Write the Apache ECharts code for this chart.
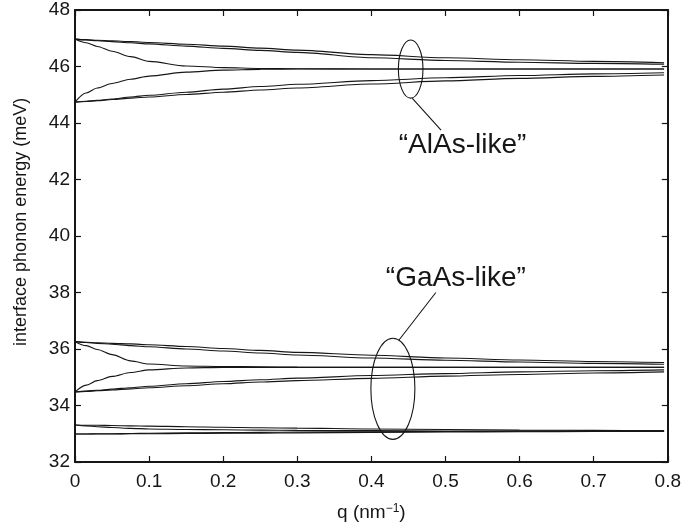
<!DOCTYPE html>
<html><head><meta charset="utf-8">
<script src="https://cdn.jsdelivr.net/npm/echarts@6/dist/echarts.min.js"></script>
<style>html,body{margin:0;padding:0;background:#fff}#c{width:684px;height:529px}</style>
</head><body><div id="c"></div>
<script>
// wave vector q (nm^-1)
const q = [0, 0.015, 0.03, 0.05, 0.075, 0.1, 0.15, 0.2, 0.25, 0.3, 0.4, 0.5, 0.6, 0.7, 0.795];
// "AlAs-like" interface phonon branches (meV)
const alas1 = [46.97, 46.95, 46.93, 46.91, 46.88, 46.85, 46.79, 46.72, 46.65, 46.58, 46.42, 46.31, 46.24, 46.18, 46.13];
const alas2 = [46.97, 46.94, 46.91, 46.88, 46.84, 46.80, 46.72, 46.64, 46.57, 46.50, 46.31, 46.21, 46.15, 46.11, 46.08];
const alas3 = [46.97, 46.84, 46.71, 46.54, 46.35, 46.18, 46.02, 45.96, 45.93, 45.92, 45.91, 45.91, 45.91, 45.91, 45.91];
const alas4 = [44.74, 45.06, 45.24, 45.40, 45.55, 45.66, 45.80, 45.87, 45.90, 45.91, 45.91, 45.91, 45.91, 45.91, 45.91];
const alas5 = [44.74, 44.77, 44.80, 44.85, 44.92, 44.98, 45.09, 45.20, 45.29, 45.37, 45.50, 45.60, 45.68, 45.74, 45.78];
const alas6 = [44.74, 44.76, 44.79, 44.83, 44.88, 44.92, 45.01, 45.09, 45.17, 45.24, 45.38, 45.49, 45.58, 45.65, 45.70];
// "GaAs-like" interface phonon branches (meV)
const gaas1 = [36.26, 36.24, 36.22, 36.20, 36.18, 36.15, 36.09, 36.02, 35.95, 35.88, 35.78, 35.68, 35.61, 35.56, 35.52];
const gaas2 = [36.26, 36.23, 36.20, 36.17, 36.12, 36.08, 36.00, 35.93, 35.86, 35.79, 35.68, 35.60, 35.54, 35.49, 35.46];
const gaas3 = [36.26, 36.12, 35.98, 35.80, 35.58, 35.47, 35.40, 35.38, 35.37, 35.36, 35.35, 35.35, 35.35, 35.35, 35.35];
const gaas4 = [34.48, 34.72, 34.88, 35.03, 35.17, 35.26, 35.33, 35.35, 35.35, 35.35, 35.35, 35.35, 35.35, 35.35, 35.35];
const gaas5 = [34.48, 34.51, 34.54, 34.58, 34.63, 34.68, 34.77, 34.85, 34.91, 34.97, 35.06, 35.13, 35.19, 35.23, 35.26];
const gaas6 = [34.48, 34.50, 34.52, 34.55, 34.59, 34.63, 34.70, 34.77, 34.83, 34.88, 34.96, 35.04, 35.10, 35.15, 35.19];
const low1 = [33.31, 33.30, 33.30, 33.29, 33.28, 33.27, 33.25, 33.23, 33.21, 33.20, 33.17, 33.15, 33.13, 33.12, 33.11];
const low2 = [33.31, 33.28, 33.25, 33.22, 33.19, 33.17, 33.15, 33.14, 33.13, 33.12, 33.11, 33.10, 33.10, 33.10, 33.10];
const low3 = [32.99, 32.99, 33.00, 33.00, 33.01, 33.02, 33.03, 33.04, 33.05, 33.06, 33.07, 33.08, 33.09, 33.09, 33.10];
const low4 = [32.99, 32.99, 32.99, 32.99, 33.00, 33.00, 33.01, 33.02, 33.02, 33.03, 33.05, 33.06, 33.07, 33.08, 33.08];
const curves = [alas1, alas2, alas3, alas4, alas5, alas6, gaas1, gaas2, gaas3, gaas4, gaas5, gaas6, low1, low2, low3, low4];
// tick labels
const xTicks = ['0', '0.1', '0.2', '0.3', '0.4', '0.5', '0.6', '0.7', '0.8'];
const yTicks = ['32', '34', '36', '38', '40', '42', '44', '46', '48'];
// annotations (data coordinates)
const alasNote = {label: '\u201cAlAs-like\u201d', center: [0.453, 45.91], rq: 0.0166, rv: 1.03, from: [0.455, 44.88], to: [0.494, 43.75], text: [0.523, 43.22]};
const gaasNote = {label: '\u201cGaAs-like\u201d', center: [0.429, 34.59], rq: 0.0297, rv: 1.79, from: [0.437, 36.31], to: [0.487, 38.0], text: [0.514, 38.5]};
const yTitle = 'interface phonon energy (meV)';

const FONT = 'Liberation Sans, Arial, Helvetica, sans-serif';
const ink = '#161616';
const chart = echarts.init(document.getElementById('c'), null, {renderer: 'canvas'});
const baseAxis = {axisLine: {show: true, onZero: false, lineStyle: {color: ink, width: 2}}, axisTick: {show: true, inside: true, length: 6, lineStyle: {color: ink, width: 1.2}}, splitLine: {show: false}};
chart.setOption({
  animation: false,
  grid: {left: 75, right: 16, top: 10, bottom: 67},
  xAxis: [
    Object.assign({type: 'value', min: 0, max: 0.8, interval: 0.1, position: 'bottom',
      axisLabel: {color: ink, fontFamily: FONT, fontSize: 19, margin: 10, formatter: (v) => xTicks[Math.round(v * 10)]},
      name: '{a|q (nm}{s|\u22121}{a|)}', nameLocation: 'middle', nameGap: 41,
      nameTextStyle: {rich: {a: {fontFamily: FONT, fontSize: 19, color: ink}, s: {fontFamily: FONT, fontSize: 12, color: ink, verticalAlign: 'top', padding: [0, 0, 8, 0]}}}}, baseAxis),
    Object.assign({type: 'value', min: 0, max: 0.8, interval: 0.1, position: 'top', axisLabel: {show: false}}, baseAxis)
  ],
  yAxis: [
    Object.assign({type: 'value', min: 32, max: 48, interval: 2, position: 'left',
      axisLabel: {color: ink, fontFamily: FONT, fontSize: 19, margin: 5, formatter: (v) => yTicks[Math.round((v - 32) / 2)]}}, baseAxis),
    Object.assign({type: 'value', min: 32, max: 48, interval: 2, position: 'right', axisLabel: {show: false}}, baseAxis)
  ],
  series: curves.map((c) => ({type: 'line', data: q.map((x, i) => [x, c[i]]), showSymbol: false, symbol: 'none',
    smooth: 0.3, smoothMonotone: 'x', lineStyle: {color: ink, width: 1.1}, silent: true}))
});

function px(p) { return chart.convertToPixel({gridIndex: 0}, p); }
const graphics = [];
[alasNote, gaasNote].forEach((n) => {
  const c = px(n.center);
  const e = px([n.center[0] + n.rq, n.center[1] + n.rv]);
  graphics.push({type: 'ellipse', shape: {cx: c[0], cy: c[1], rx: Math.abs(e[0] - c[0]), ry: Math.abs(e[1] - c[1])}, style: {fill: 'none', stroke: ink, lineWidth: 1.1}, z: 100});
  const a = px(n.from), b = px(n.to);
  graphics.push({type: 'line', shape: {x1: a[0], y1: a[1], x2: b[0], y2: b[1]}, style: {stroke: ink, lineWidth: 1.1}, z: 100});
  const t = px(n.text);
  graphics.push({type: 'text', x: t[0], y: t[1], style: {text: n.label, fontFamily: FONT, fontSize: 28, fill: ink, align: 'center', verticalAlign: 'middle'}, z: 100});
});
// y-axis title, placed beside the axis
const mid = px([0, 40.5]);
graphics.push({type: 'text', x: 21, y: mid[1], rotation: Math.PI / 2, style: {text: yTitle, fontFamily: FONT, fontSize: 18, fill: ink, align: 'center', verticalAlign: 'middle'}});
chart.setOption({graphic: graphics});
</script></body></html>
